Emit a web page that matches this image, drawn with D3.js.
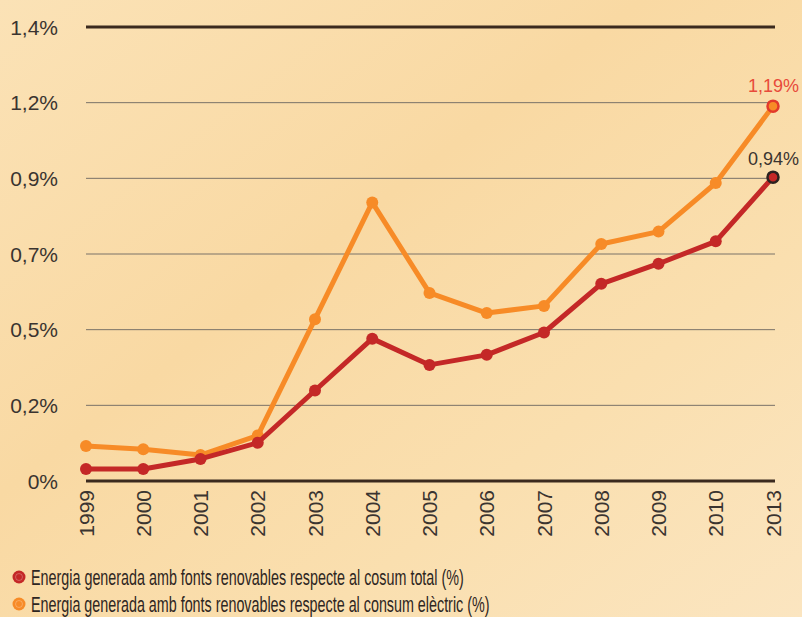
<!DOCTYPE html>
<html>
<head>
<meta charset="utf-8">
<script src="https://cdn.jsdelivr.net/npm/d3@7"></script>
<style>
  html, body { margin: 0; padding: 0; }
  body { width: 802px; height: 617px; overflow: hidden; }
  text { font-family: "Liberation Sans", Arial, sans-serif; }
</style>
</head>
<body>
<svg id="chart" width="802" height="617"></svg>
<script>
// years on the x axis
const years = ['1999', '2000', '2001', '2002', '2003', '2004', '2005', '2006', '2007', '2008', '2009', '2010', '2013'];

// % of renewables vs total consumption (red)
const totalValues = [0.037, 0.037, 0.068, 0.118, 0.279, 0.439, 0.358, 0.389, 0.458, 0.608, 0.670, 0.739, 0.937];
// % of renewables vs electric consumption (orange)
const electricValues = [0.108, 0.098, 0.080, 0.140, 0.499, 0.859, 0.580, 0.518, 0.540, 0.731, 0.769, 0.919, 1.156];

const yTicks = [0, 1.4 / 6, 2.8 / 6, 4.2 / 6, 5.6 / 6, 7 / 6, 1.4];
const endLabels = ['0,94%', '1,19%'];
const legendLabels = [
    'Energia generada amb fonts renovables respecte al cosum total (%)',
    'Energia generada amb fonts renovables respecte al consum elèctric (%)'
];

const svg = d3.select('#chart');

// parchment background
const defs = svg.append('defs');
const bg = defs.append('linearGradient').attr('id', 'bg')
    .attr('x1', 0).attr('y1', 0).attr('x2', 1).attr('y2', 1);
bg.append('stop').attr('offset', '0%').attr('stop-color', '#fbe2b6');
bg.append('stop').attr('offset', '40%').attr('stop-color', '#f9d9a3');
bg.append('stop').attr('offset', '70%').attr('stop-color', '#fadfaf');
bg.append('stop').attr('offset', '100%').attr('stop-color', '#fbe5c0');
svg.append('rect').attr('width', 802).attr('height', 617).attr('fill', 'url(#bg)');

const x = d3.scalePoint().domain(years).range([86, 773]);
const y = d3.scaleLinear().domain([0, 1.4]).range([481, 27]);

const fmt = v => d3.format('.1f')(v).replace('.', ',') + '%';

// grid lines
svg.append('g').selectAll('line')
    .data(yTicks)
    .join('line')
    .attr('x1', 86)
    .attr('x2', 775)
    .attr('y1', d => y(d))
    .attr('y2', d => y(d))
    .attr('stroke', (d, i) => (i === 0 || i === yTicks.length - 1) ? '#3b2a1e' : '#7a7268')
    .attr('stroke-width', (d, i) => (i === 0 || i === yTicks.length - 1) ? 3 : 1);

// y axis labels
svg.append('g').selectAll('text')
    .data(yTicks)
    .join('text')
    .attr('x', 58)
    .attr('y', d => y(d))
    .attr('dy', '0.36em')
    .attr('text-anchor', 'end')
    .attr('font-size', 21)
    .attr('fill', '#3a3430')
    .text(d => d === 0 ? '0%' : fmt(d));

// x axis labels
svg.append('g').selectAll('text')
    .data(years)
    .join('text')
    .attr('transform', d => `translate(${x(d)},490) rotate(-90)`)
    .attr('dy', '0.36em')
    .attr('text-anchor', 'end')
    .attr('font-size', 21)
    .attr('fill', '#3a3430')
    .text(d => d);

const line = d3.line()
    .x((d, i) => x(years[i]))
    .y(d => y(d));

const series = [
    { values: electricValues, color: '#f78b27', ring: '#e2392b' },
    { values: totalValues, color: '#c42827', ring: '#2b2220' }
];

series.forEach(s => {
    svg.append('path')
        .datum(s.values)
        .attr('fill', 'none')
        .attr('stroke', s.color)
        .attr('stroke-width', 5)
        .attr('stroke-linejoin', 'round')
        .attr('d', line);

    svg.append('g').selectAll('circle')
        .data(s.values)
        .join('circle')
        .attr('cx', (d, i) => x(years[i]))
        .attr('cy', d => y(d))
        .attr('r', (d, i) => i === years.length - 1 ? 5.5 : 6)
        .attr('fill', s.color)
        .attr('stroke', (d, i) => i === years.length - 1 ? s.ring : 'none')
        .attr('stroke-width', 2.5);
});

// end value labels
svg.append('text')
    .attr('x', 799).attr('y', y(electricValues[electricValues.length - 1]) - 14)
    .attr('text-anchor', 'end')
    .attr('font-size', 18)
    .attr('fill', '#e84a3a')
    .text(endLabels[1]);
svg.append('text')
    .attr('x', 799).attr('y', y(totalValues[totalValues.length - 1]) - 12)
    .attr('text-anchor', 'end')
    .attr('font-size', 18)
    .attr('fill', '#3a3430')
    .text(endLabels[0]);

// legend
const legendColors = ['#c42827', '#f78b27'];
const legendWidths = [433, 459];
const legend = svg.append('g').selectAll('g')
    .data(legendLabels)
    .join('g')
    .attr('transform', (d, i) => `translate(0,${577 + i * 27})`);

legend.append('circle')
    .attr('cx', 19).attr('cy', 0).attr('r', 6.5)
    .attr('fill', (d, i) => legendColors[i]);
legend.append('circle')
    .attr('cx', 19).attr('cy', 0).attr('r', 3.5)
    .attr('fill', 'none')
    .attr('stroke', 'rgba(255,255,255,0.25)')
    .attr('stroke-width', 1);

// condensed look: squeeze text horizontally only
legend.append('text')
    .attr('x', 0)
    .attr('y', 8)
    .attr('font-size', 22)
    .attr('fill', '#2e2622')
    .text(d => d)
    .each(function (d, i) {
        const w = this.getComputedTextLength();
        const k = legendWidths[i] / w;
        d3.select(this).attr('transform', `translate(31,0) scale(${k},1)`);
    });
</script>
</body>
</html>
